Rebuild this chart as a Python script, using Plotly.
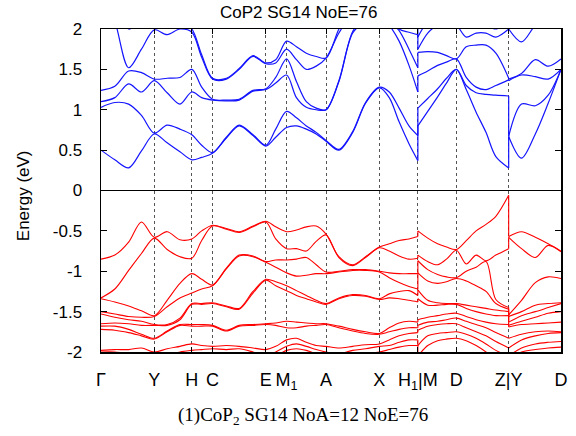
import plotly.graph_objects as go

# k-path sample positions (abscissa) and high-symmetry ticks
K = [0, 14, 28, 41, 54, 67, 80, 92, 102, 113, 127, 140, 154, 167, 177, 188,
     198, 208, 218, 228, 241, 255, 268, 282, 292, 302, 312, 321,
     321, 331, 341, 350, 360, 370, 380, 390, 400, 413,
     413, 426, 440, 453, 466]
SEGMENTS = [(0, 28), (28, 38), (38, 43)]
TICK_POS = [0, 54, 92, 113, 167, 188, 228, 282, 321, 360, 413, 466]
TICK_TXT = ["Γ", "Y", "H", "C", "E", "M<sub>1</sub>", "A", "X", "H<sub>1</sub>|M", "D", "Z|Y", "D"]
Y_TICKS = [2, 1.5, 1, 0.5, 0, -0.5, -1, -1.5, -2]
Y_TXT = ["2", "1.5", "1", "0.5", "0", "-0.5", "-1", "-1.5", "-2"]

# conduction bands (eV)
c1 = [0.50, 0.38, 0.28, 0.49, 0.70, 0.59, 0.48, 0.38, 0.41, 0.46, 0.65, 0.80, 0.68, 0.55, 0.66, 0.78,
      0.80, 0.76, 0.70, 0.61, 0.50, 0.72, 1.08, 1.27, 1.15, 0.85, 0.58, 0.37,
      0.80, 0.98, 1.16, 1.33, 1.50, 1.25, 0.97, 0.72, 0.42, 0.28, 0.67, 0.40, 0.70, 1.08, 1.50]
c2 = [1.03, 1.09, 1.07, 0.93, 0.71, 0.81, 0.76, 0.69, 0.56, 0.47, 0.66, 0.81, 0.69, 0.56, 0.76, 0.98,
      0.90, 0.80, 0.72, 0.62, 0.51, 0.73, 1.09, 1.28, 1.22, 1.02, 0.80, 0.68,
      1.02, 1.14, 1.26, 1.39, 1.50, 1.30, 1.21, 1.19, 1.18, 1.17, 0.67, 1.07, 1.05, 1.18, 1.50]
c3 = [1.10, 1.15, 1.32, 1.22, 1.36, 1.21, 1.07, 1.22, 1.15, 1.12, 1.11, 1.12, 1.23, 1.25, 1.33, 1.43,
      1.15, 1.03, 1.00, 1.00, 1.35, 1.95, 2.10, 2.20, 2.05, 1.85, 1.55, 1.22,
      1.42, 1.48, 1.55, 1.59, 1.63, 1.40, 1.28, 1.25, 1.30, 1.37, 1.36, 1.43, 1.41, 1.38, 1.50]
c4 = [1.24, 1.29, 1.48, 1.46, 1.38, 1.39, 1.40, 1.50, 1.28, 1.13, 1.12, 1.13, 1.24, 1.26, 1.40, 1.63,
      1.35, 1.10, 1.02, 1.00, 1.36, 1.97, 2.15, 2.30, 2.10, 1.98, 1.75, 1.52,
      1.71, 1.72, 1.71, 1.67, 1.63, 1.78, 1.80, 1.80, 1.70, 1.39, 1.38, 1.45, 1.62, 1.54, 1.63]
c5 = [2.50, 2.10, 1.52, 1.75, 1.99, 1.93, 2.00, 1.96, 1.65, 1.38, 1.38, 1.50, 1.66, 1.57, 1.58, 1.75,
      1.62, 1.50, 1.54, 1.64, 1.95, 2.20, 2.30, 2.40, 2.20, 2.00, 1.96, 1.93,
      1.75, 1.95, 2.05, 2.10, 2.05, 1.90, 1.95, 1.95, 1.90, 2.00, 2.00, 1.84, 2.05, 2.20, 2.20]
c6 = [2.60, 2.40, 2.00, 2.10, 2.10, 2.05, 2.10, 2.00, 1.68, 1.39, 1.39, 1.51, 1.67, 1.58, 1.62, 1.85,
      1.78, 1.70, 1.66, 1.64, 2.00, 2.30, 2.40, 2.50, 2.30, 2.20, 2.10, 2.00,
      1.90, 2.10, 2.20, 2.20, 2.10, 2.10, 2.10, 2.05, 2.00, 2.10, 2.10, 2.10, 2.20, 2.20, 2.10]

# valence bands (eV)
v1 = [-0.85, -0.80, -0.64, -0.39, -0.58, -0.51, -0.61, -0.60, -0.50, -0.43, -0.47, -0.51, -0.44, -0.38, -0.45, -0.51,
      -0.49, -0.45, -0.44, -0.54, -0.82, -0.92, -0.82, -0.70, -0.66, -0.62, -0.60, -0.57,
      -0.50, -0.59, -0.66, -0.70, -0.73, -0.62, -0.50, -0.42, -0.32, -0.06, -0.57, -0.51, -0.58, -0.66, -0.75]
v2 = [-1.33, -1.22, -0.99, -0.78, -0.59, -0.73, -0.82, -0.84, -0.62, -0.44, -0.48, -0.52, -0.45, -0.39, -0.60, -0.72,
      -0.72, -0.75, -0.63, -0.55, -0.83, -0.93, -0.83, -0.71, -0.75, -0.81, -0.85, -0.84,
      -0.80, -0.88, -0.92, -0.85, -0.74, -0.91, -0.80, -0.87, -0.80, -0.72, -0.58, -0.72, -0.83, -0.68, -0.76]
v3 = [-1.34, -1.38, -1.43, -1.49, -1.55, -1.36, -1.15, -1.03, -1.10, -1.17, -0.96, -0.80, -0.81, -0.88, -0.86, -0.86,
      -0.85, -0.83, -0.92, -1.01, -1.00, -0.98, -0.98, -1.00, -1.02, -1.03, -1.03, -1.03,
      -0.87, -0.98, -1.04, -1.07, -1.08, -1.00, -0.95, -0.88, -1.35, -1.45, -1.54, -1.36, -1.14, -1.07, -1.09]
v4 = [-1.50, -1.53, -1.56, -1.57, -1.56, -1.44, -1.33, -1.27, -1.22, -1.18, -0.97, -0.81, -0.82, -0.89, -0.95, -1.02,
      -1.06, -1.05, -1.03, -1.03, -1.01, -0.99, -0.99, -1.01, -1.08, -1.14, -1.19, -1.22,
      -1.02, -1.12, -1.15, -1.13, -1.09, -1.12, -1.18, -1.25, -1.40, -1.47, -1.56, -1.50, -1.42, -1.40, -1.39]
v5 = [-1.53, -1.57, -1.60, -1.62, -1.66, -1.66, -1.58, -1.40, -1.40, -1.39, -1.43, -1.46, -1.25, -1.10, -1.13, -1.18,
      -1.24, -1.30, -1.36, -1.40, -1.33, -1.29, -1.30, -1.34, -1.28, -1.25, -1.24, -1.30,
      -1.23, -1.36, -1.39, -1.40, -1.40, -1.42, -1.44, -1.46, -1.48, -1.50, -1.63, -1.55, -1.50, -1.45, -1.40]
v6 = [-1.65, -1.64, -1.65, -1.67, -1.67, -1.67, -1.60, -1.41, -1.41, -1.40, -1.44, -1.47, -1.27, -1.11, -1.18, -1.24,
      -1.30, -1.34, -1.38, -1.41, -1.34, -1.30, -1.31, -1.35, -1.33, -1.34, -1.36, -1.38,
      -1.34, -1.42, -1.42, -1.41, -1.41, -1.46, -1.50, -1.53, -1.55, -1.55, -1.67, -1.62, -1.57, -1.52, -1.50]
v7 = [-1.68, -1.68, -1.72, -1.78, -1.83, -1.74, -1.66, -1.66, -1.66, -1.67, -1.73, -1.67, -1.66, -1.65, -1.64, -1.62,
      -1.63, -1.64, -1.65, -1.65, -1.68, -1.72, -1.75, -1.77, -1.70, -1.64, -1.62, -1.63,
      -1.60, -1.57, -1.55, -1.53, -1.52, -1.56, -1.60, -1.63, -1.65, -1.66, -1.69, -1.66, -1.65, -1.64, -1.63]
v8 = [-1.72, -1.73, -1.76, -1.80, -1.84, -1.75, -1.67, -1.68, -1.68, -1.68, -1.74, -1.68, -1.67, -1.66, -1.67, -1.70,
      -1.70, -1.68, -1.67, -1.66, -1.70, -1.74, -1.77, -1.78, -1.75, -1.72, -1.70, -1.70,
      -1.67, -1.63, -1.62, -1.60, -1.58, -1.62, -1.66, -1.70, -1.76, -1.83, -1.83, -1.78, -1.75, -1.74, -1.75]
v9 = [-1.98, -1.97, -1.97, -1.95, -2.00, -1.96, -1.93, -1.90, -1.92, -1.93, -1.92, -1.93, -1.95, -1.97, -1.93, -1.85,
      -1.83, -1.88, -1.92, -1.93, -1.95, -1.93, -1.91, -1.90, -1.85, -1.80, -1.77, -1.76,
      -1.73, -1.68, -1.66, -1.65, -1.65, -1.70, -1.75, -1.80, -1.87, -1.95, -1.95, -1.85, -1.80, -1.77, -1.76]
v10 = [-2.00, -2.00, -2.02, -2.03, -2.05, -2.05, -2.00, -1.98, -1.97, -1.96, -1.97, -1.96, -2.00, -2.05, -2.00, -1.93,
       -1.90, -1.93, -1.97, -2.00, -2.02, -1.98, -1.96, -1.93, -1.92, -1.88, -1.85, -1.85,
       -1.92, -1.80, -1.77, -1.76, -1.75, -1.78, -1.83, -1.90, -1.98, -2.05, -2.05, -1.95, -1.90, -1.88, -1.87]
v11 = [-2.10, -2.10, -2.10, -2.10, -2.10, -2.10, -2.08, -2.05, -2.05, -2.05, -2.05, -2.05, -2.08, -2.10, -2.05, -1.98,
       -1.96, -1.98, -2.02, -2.05, -2.08, -2.05, -2.02, -2.00, -1.97, -1.94, -1.92, -1.92,
       -2.05, -1.92, -1.86, -1.84, -1.83, -1.86, -1.92, -2.00, -2.10, -2.20, -2.10, -2.00, -1.97, -1.95, -1.94]

CONDUCTION = [c1, c2, c3, c4, c5, c6]
VALENCE = [v1, v2, v3, v4, v5, v6, v7, v8, v9, v10, v11]


def band_paths(bands):
    xs, ys, jx, jy = [], [], [], []
    for b in bands:
        for (a, e) in SEGMENTS:
            xs += K[a:e] + [None]
            ys += b[a:e] + [None]
        for (a, e) in SEGMENTS[:-1]:
            jx += [K[e - 1], K[e], None]
            jy += [b[e - 1], b[e], None]
    return xs, ys, jx, jy


fig = go.Figure()
for bands, color, w in [(CONDUCTION, "rgb(20,20,255)", 1.2), (VALENCE, "rgb(255,0,0)", 1.1)]:
    xs, ys, jx, jy = band_paths(bands)
    fig.add_trace(go.Scatter(x=xs, y=ys, mode="lines",
                             line=dict(color=color, width=w, shape="spline", smoothing=0.9),
                             hoverinfo="skip"))
    fig.add_trace(go.Scatter(x=jx, y=jy, mode="lines",
                             line=dict(color=color, width=w), hoverinfo="skip"))

fig.update_layout(
    width=576, height=436,
    margin=dict(l=101, r=8, t=29, b=84),
    paper_bgcolor="white", plot_bgcolor="white",
    showlegend=False,
    font=dict(family="Liberation Sans, Arial, sans-serif", size=17, color="black"),
    xaxis=dict(range=[0, 466], tickvals=TICK_POS, ticktext=TICK_TXT,
               showgrid=True, gridcolor="#555", griddash="dot", gridwidth=1,
               ticks="inside", ticklen=5, tickcolor="black",
               showline=True, linecolor="black", linewidth=1.5, mirror="ticks",
               zeroline=False, ticklabelstandoff=11, tickfont=dict(size=18)),
    yaxis=dict(range=[-2, 2], tickvals=Y_TICKS, ticktext=Y_TXT,
               showgrid=False, ticks="inside", ticklen=6, tickcolor="black",
               showline=True, linecolor="black", linewidth=1.5, mirror="ticks",
               zeroline=True, zerolinecolor="black", zerolinewidth=1.2,
               ticklabelstandoff=14),
    annotations=[
        dict(text="CoP2 SG14 NoE=76", x=(302 - 101) / 467, y=(352 - 12) / 323,
             xref="paper", yref="paper", xanchor="center", yanchor="middle",
             showarrow=False, font=dict(size=17)),
        dict(text="Energy (eV)", x=(22 - 101) / 467, y=(352 - 196) / 323,
             xref="paper", yref="paper", xanchor="center", yanchor="middle",
             textangle=-90, showarrow=False, font=dict(size=17)),
        dict(text="(1)CoP<sub>2</sub> SG14 NoA=12 NoE=76", x=(306 - 101) / 467, y=(352 - 416) / 323,
             xref="paper", yref="paper", xanchor="center", yanchor="middle",
             showarrow=False, font=dict(size=19, family="Liberation Serif, Times New Roman, serif")),
    ],
)

# remove the default page margin so the 576x436 figure fills the window exactly
fig.write_html("out.html", config={"displayModeBar": False, "staticPlot": True},
               post_script="document.body.style.margin='0';")
